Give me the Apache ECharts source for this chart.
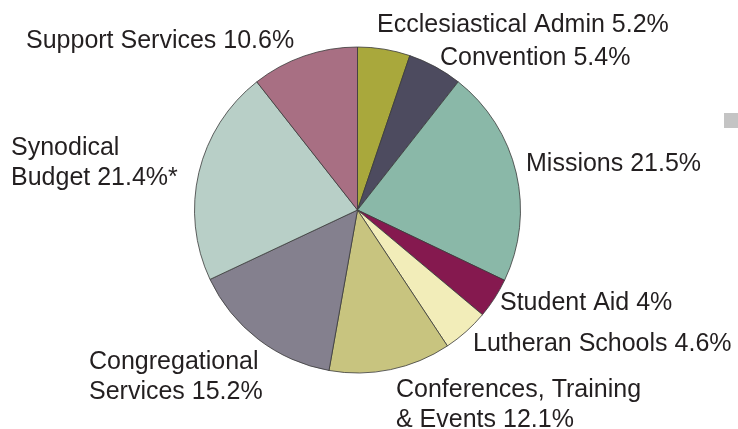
<!DOCTYPE html>
<html>
<head>
<meta charset="utf-8">
<script src="https://cdn.jsdelivr.net/npm/echarts@6/dist/echarts.min.js"></script>
<style>
  html, body { margin: 0; padding: 0; background: #fff; }
  #chart { width: 738px; height: 429px; }
</style>
</head>
<body>
<div id="chart"></div>
<script>
// slices, clockwise from 12 o'clock
const categories = [
  'Ecclesiastical Admin',
  'Convention',
  'Missions',
  'Student Aid',
  'Lutheran Schools',
  'Conferences, Training\n& Events',
  'Congregational\nServices',
  'Synodical\nBudget',
  'Support Services'
]
const shares = [5.2, 5.4, 21.5, 4, 4.6, 12.1, 15.2, 21.4, 10.6]
const footnoteMarks = ['', '', '', '', '', '', '', '*', '']

const colors = ['#a9a83c', '#4d4b5f', '#8ab8a8', '#85194f', '#f2edb9', '#c8c47f', '#84808e', '#b8cfc7', '#a86f83']

// where each label sits (left x, vertical centre y)
const labelSpots = [
  [377, 25], [440, 58], [526, 164], [500, 303], [473, 344],
  [396, 405], [89, 377], [11, 163], [26, 41]
]

const chart = echarts.init(document.getElementById('chart'))

chart.setOption({
  animation: false,
  textStyle: { fontFamily: '"Liberation Sans", Arial, sans-serif' },
  graphic: [
    { type: 'rect', shape: { x: 724, y: 113, width: 14, height: 15 }, style: { fill: '#c4c4c4' } }
  ],
  series: [{
    type: 'pie',
    center: [357.5, 210],
    radius: 163,
    startAngle: 90,
    clockwise: true,
    avoidLabelOverlap: false,
    data: categories.map((name, i) => ({
      name,
      value: shares[i],
      itemStyle: { color: colors[i] }
    })),
    itemStyle: { borderColor: '#3a3a3a', borderWidth: 0.8 },
    label: {
      show: true,
      position: 'outside',
      overflow: 'none',
      color: '#231f20',
      fontSize: 25,
      lineHeight: 30,
      formatter: p => `${p.name} ${shares[p.dataIndex]}%${footnoteMarks[p.dataIndex]}`
    },
    labelLine: { show: false },
    labelLayout: p => ({
      x: labelSpots[p.dataIndex][0],
      y: labelSpots[p.dataIndex][1],
      align: 'left',
      verticalAlign: 'middle'
    }),
    emphasis: { disabled: true }
  }]
})
</script>
</body>
</html>
